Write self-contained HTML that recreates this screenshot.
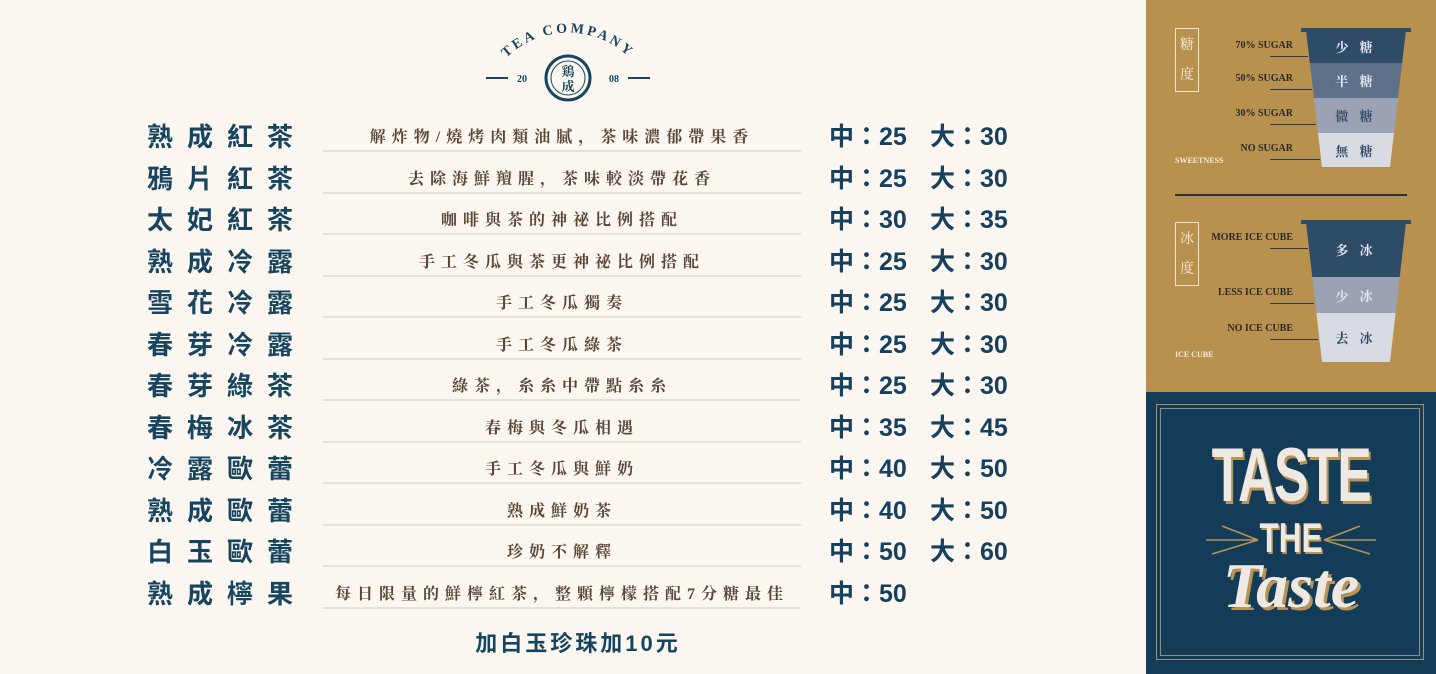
<!DOCTYPE html>
<html><head><meta charset="utf-8">
<style>
*{margin:0;padding:0;box-sizing:border-box}
body{width:1436px;height:674px;overflow:hidden;background:#fbf7f0;position:relative;font-family:"Liberation Serif","Noto Serif CJK SC",serif}
.abs{position:absolute}
.name{position:absolute;left:147px;font-size:26px;letter-spacing:14px;color:#17455f;font-family:"Liberation Sans","Noto Sans CJK TC",sans-serif;font-weight:700;line-height:30px}
.desc{position:absolute;left:323px;width:478px;text-align:center;font-size:16px;letter-spacing:6px;color:#5a4636;line-height:20px;font-family:"Liberation Serif","Noto Serif CJK SC",serif;font-weight:700}
.rule{position:absolute;left:323px;width:478px;height:2px;background:#e6e1d8}
.price{position:absolute;font-size:25px;color:#16405d;font-family:"Liberation Sans","Noto Sans CJK TC",sans-serif;font-weight:700;line-height:30px}
.lbl{position:absolute;font-size:10px;font-weight:700;color:#2a2a2a;font-family:"Liberation Serif",serif;white-space:nowrap}
.lead{position:absolute;height:1px;background:#2a3a4a}
.layer{position:absolute;display:flex;align-items:center;justify-content:center;font-size:13px;font-weight:700;letter-spacing:4px;font-family:"Liberation Serif","Noto Serif CJK SC",serif}
</style></head>
<body>

<svg class="abs" style="left:478px;top:18px" width="180" height="100">
  <defs><path id="arc" d="M 18 52 A 88 88 0 0 1 162 52"/></defs>
  <text font-family="Liberation Serif" font-weight="700" font-size="14" letter-spacing="3" fill="#17455f"><textPath href="#arc" startOffset="50%" text-anchor="middle">TEA COMPANY</textPath></text>
  <circle cx="90" cy="60" r="22" fill="none" stroke="#17455f" stroke-width="3"/>
  <circle cx="90" cy="60" r="17" fill="none" stroke="#17455f" stroke-width="1"/>
  <text x="90" y="58" text-anchor="middle" font-size="13" font-weight="700" fill="#17455f" font-family="Noto Serif CJK SC,serif">鶏</text>
  <text x="90" y="73" text-anchor="middle" font-size="13" font-weight="700" fill="#17455f" font-family="Noto Serif CJK SC,serif">成</text>
  <line x1="8" y1="60" x2="30" y2="60" stroke="#17455f" stroke-width="2"/>
  <text x="44" y="64" text-anchor="middle" font-size="10" font-weight="700" fill="#17455f">20</text>
  <text x="136" y="64" text-anchor="middle" font-size="10" font-weight="700" fill="#17455f">08</text>
  <line x1="150" y1="60" x2="172" y2="60" stroke="#17455f" stroke-width="2"/>
</svg>

<div id="menu"></div>

<div class="abs" style="left:0;top:626px;width:1156px;text-align:center;font-size:22px;color:#17455f;letter-spacing:3px;font-family:'Liberation Sans','Noto Sans CJK TC',sans-serif;font-weight:700">加白玉珍珠加10元</div>

<div class="abs" style="left:1146px;top:0;width:290px;height:392px;background:#b8914f"></div>

<div class="abs" style="left:1175px;top:28px;width:24px;height:64px;border:1px solid #f2e6d0;color:#f5ecdc;font-size:14px;text-align:center;line-height:30px;font-family:'Noto Serif CJK SC',serif">糖<br>度</div>
<div class="abs" style="left:1175px;top:156px;font-size:8px;color:#f5ecdc;font-weight:700">SWEETNESS</div>
<div class="abs" style="left:1175px;top:194px;width:232px;height:2px;background:#2b3440"></div>
<div class="abs" style="left:1175px;top:222px;width:24px;height:64px;border:1px solid #f2e6d0;color:#f5ecdc;font-size:14px;text-align:center;line-height:30px;font-family:'Noto Serif CJK SC',serif">冰<br>度</div>
<div class="abs" style="left:1175px;top:350px;font-size:8px;color:#f5ecdc;font-weight:700">ICE CUBE</div>

<div id="cups"></div>

<div class="abs" style="left:1146px;top:392px;width:290px;height:282px;background:#123c58">
  <div class="abs" style="left:10px;top:12px;width:268px;height:256px;border:1px solid #a8916a"></div>
  <div class="abs" style="left:14px;top:16px;width:260px;height:248px;border:1px solid #8d8f8f"></div>
  <div class="abs" style="left:0;top:48px;width:290px;text-align:center;font-size:76px;font-weight:700;color:#efe9e4;font-family:'Liberation Sans',sans-serif;letter-spacing:-2px;transform:scaleX(0.68);text-shadow:3px 3px 0 #b99256;line-height:72px">TASTE</div>
  <div class="abs" style="left:0;top:126px;width:290px;text-align:center;font-size:42px;font-weight:700;color:#efe9e4;font-family:'Liberation Sans',sans-serif;transform:scaleX(0.75);text-shadow:2px 2px 0 #b99256;line-height:40px">THE</div>
  <svg class="abs" style="left:0;top:120px" width="290" height="50"><g stroke="#b99256" stroke-width="1.5" fill="none"><line x1="60" y1="28" x2="112" y2="28"/><line x1="76" y1="14" x2="112" y2="28"/><line x1="66" y1="42" x2="112" y2="28"/><line x1="178" y1="28" x2="230" y2="28"/><line x1="214" y1="14" x2="178" y2="28"/><line x1="224" y1="42" x2="178" y2="28"/></g></svg>
  <div class="abs" style="left:0;top:162px;width:290px;text-align:center;font-size:64px;font-style:italic;font-weight:700;color:#efe9e4;font-family:'Liberation Serif',serif;text-shadow:3px 3px 0 #b99256;line-height:64px">Taste</div>
</div>

<script>
const names=["熟成紅茶","鴉片紅茶","太妃紅茶","熟成冷露","雪花冷露","春芽冷露","春芽綠茶","春梅冰茶","冷露歐蕾","熟成歐蕾","白玉歐蕾","熟成檸果"];
const descs=["解炸物/燒烤肉類油膩，茶味濃郁帶果香","去除海鮮羶腥，茶味較淡帶花香","咖啡與茶的神祕比例搭配","手工冬瓜與茶更神祕比例搭配","手工冬瓜獨奏","手工冬瓜綠茶","綠茶，糸糸中帶點糸糸","春梅與冬瓜相遇","手工冬瓜與鮮奶","熟成鮮奶茶","珍奶不解釋","每日限量的鮮檸紅茶，整顆檸檬搭配7分糖最佳"];
const medium=[25,25,30,25,25,25,25,35,40,40,50,50];
const large=[30,30,35,30,30,30,30,45,50,50,60,null];
const menu=document.getElementById('menu');
const rowY=i=>138+i*41.5;
names.forEach((n,i)=>{
  const y=rowY(i);
  const a=document.createElement('div');a.className='name';a.style.top=(y-16)+'px';a.textContent=n;
  
  
  menu.appendChild(a);
  const d=document.createElement('div');d.className='desc';d.style.top=(y-10)+'px';d.textContent=descs[i];
  
  
  menu.appendChild(d);
  const r=document.createElement('div');r.className='rule';r.style.top=(y+12)+'px';
  
  
  menu.appendChild(r);
  const m=document.createElement('div');m.className='price';m.style.left='829px';m.style.top=(y-16)+'px';m.textContent='中：'+medium[i];
  
  
  menu.appendChild(m);
  if(large[i]!=null){
    const l=document.createElement('div');l.className='price';l.style.left='930px';l.style.top=(y-16)+'px';l.textContent='大：'+large[i];
    
    
    menu.appendChild(l);
  }
});
const sugarLayers=[["少 糖","70% SUGAR",30,33,"#2e4b68","#e8e8ee"],["半 糖","50% SUGAR",63,35,"#5f7089","#e8e8ee"],["微 糖","30% SUGAR",98,35,"#9aa2b4","#2e4b68"],["無 糖","NO SUGAR",133,34,"#d9dbe3","#2e4b68"]];
const iceLayers=[["多 冰","MORE ICE CUBE",222,55,"#2e4b68","#e8e8ee"],["少 冰","LESS ICE CUBE",277,36,"#9aa2b4","#e8e8ee"],["去 冰","NO ICE CUBE",313,49,"#d9dbe3","#2e4b68"]];
const cups=document.getElementById('cups');
function drawCup(layers,top,bottom){
  layers.forEach(L=>{
    const t=(L[2]-top)/(bottom-top), b=(L[2]+L[3]-top)/(bottom-top);
    const x0=1306+t*16, x1=1406-t*16, bx0=1306+b*16, bx1=1406-b*16;
    const el=document.createElement('div');el.className='layer';
    el.style.left='1146px';el.style.width='290px';el.style.top=L[2]+'px';el.style.height=L[3]+'px';
    el.style.background=L[4];el.style.color=L[5];
    el.style.clipPath=`polygon(${x0-1146}px 0,${x1-1146}px 0,${bx1-1146}px 100%,${bx0-1146}px 100%)`;
    el.innerHTML='<span style="margin-left:'+((x0+x1)/2-1146-145)*2+'px">'+L[0]+'</span>';
    
    
    cups.appendChild(el);
    const lb=document.createElement('div');lb.className='lbl';lb.textContent=L[1];
    lb.style.right=(1436-1293)+'px';lb.style.top=(L[2]+10)+'px';
    
    
    cups.appendChild(lb);
    const ld=document.createElement('div');ld.className='lead';ld.style.left='1270px';ld.style.width=(x0-1270+2)+'px';ld.style.top=(L[2]+26)+'px';
    
    
    cups.appendChild(ld);
  });
  const rim=document.createElement('div');rim.className='abs';rim.style.cssText=`left:1301px;top:${top-2}px;width:110px;height:4px;background:#2e4b68`;
  
  
  cups.appendChild(rim);
}
drawCup(sugarLayers,30,167);
drawCup(iceLayers,222,362);
</script>
</body></html>
